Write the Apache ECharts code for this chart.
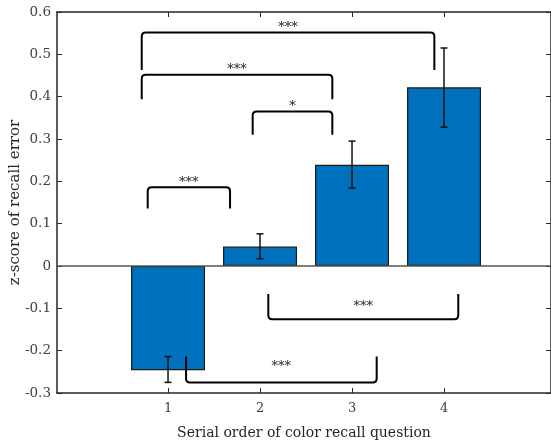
<!DOCTYPE html>
<html><head><meta charset="utf-8">
<script src="https://cdn.jsdelivr.net/npm/echarts@6/dist/echarts.min.js"></script>
<style>html,body{margin:0;padding:0;background:#fff}#c{width:551px;height:440px}</style>
</head><body><div id="c"></div>
<script>
// Data
const positions = [1, 2, 3, 4];
const means = [-0.246, 0.046, 0.239, 0.422];
const errLow = [-0.275, 0.017, 0.184, 0.328];
const errHigh = [-0.214, 0.076, 0.295, 0.515];
const yTicks = [-0.3, -0.2, -0.1, 0, 0.1, 0.2, 0.3, 0.4, 0.5, 0.6];
// significance brackets: x1, x2, line y, end y, star label y, label
const brX1 = [0.714, 0.714, 1.92, 0.779, 2.09, 1.196];
const brX2 = [3.895, 2.786, 2.786, 1.674, 4.155, 3.268];
const brY = [0.5515, 0.4515, 0.365, 0.186, -0.126, -0.275];
const brEnd = [0.463, 0.394, 0.31, 0.136, -0.066, -0.214];
const starY = [0.563, 0.463, 0.376, 0.198, -0.095, -0.238];
const starTxt = ['***', '***', '*', '***', '***', '***'];

const SERIF = '"DejaVu Serif", "Liberation Serif", serif';
const axisCol = '#262626';
const xMin = -0.207, xMax = 5.163;

const chart = echarts.init(document.getElementById('c'));
const bracketData = brX1.map((x, i) => [x, brX2[i], brY[i], brEnd[i], starY[i], starTxt[i]]);

chart.setOption({
  animation: false,
  grid: { left: 57, top: 12, right: 0, bottom: 47, outerBoundsMode: 'none', containLabel: false },
  xAxis: [{
    type: 'value', min: xMin, max: xMax, position: 'bottom',
    axisLine: { show: true, onZero: false, lineStyle: { color: axisCol, width: 1.5 } },
    axisTick: { show: true, inside: true, length: 5, customValues: positions, lineStyle: { color: axisCol } },
    axisLabel: { customValues: positions, color: '#404040', fontFamily: SERIF, fontSize: 13, margin: 9 },
    splitLine: { show: false },
    name: 'Serial order of color recall question', nameLocation: 'middle', nameGap: 33, nameMoveOverlap: false,
    nameTextStyle: { color: '#262626', fontFamily: SERIF, fontSize: 14 }
  }, {
    type: 'value', min: xMin, max: xMax, position: 'top',
    axisLine: { show: true, onZero: false, lineStyle: { color: axisCol, width: 1.5 } },
    axisTick: { show: true, inside: true, length: 5, customValues: positions, lineStyle: { color: axisCol } },
    axisLabel: { show: false }, splitLine: { show: false }
  }],
  yAxis: [{
    type: 'value', min: -0.3, max: 0.6, interval: 0.1, position: 'left',
    axisLine: { show: true, onZero: false, lineStyle: { color: axisCol, width: 1.5 } },
    axisTick: { show: true, inside: true, length: 5, lineStyle: { color: axisCol } },
    axisLabel: { color: '#404040', fontFamily: SERIF, fontSize: 13.5, margin: 6,
      formatter: v => { const r = Math.round(v * 10) / 10; return r === 0 ? '0' : r.toFixed(1); } },
    splitLine: { show: false },
    name: 'z-score of recall error', nameLocation: 'middle', nameGap: 34, nameMoveOverlap: false,
    nameTextStyle: { color: '#262626', fontFamily: SERIF, fontSize: 15 }
  }, {
    type: 'value', min: -0.3, max: 0.6, interval: 0.1, position: 'right',
    axisLine: { show: true, onZero: false, lineStyle: { color: axisCol, width: 1.5 } },
    axisTick: { show: true, inside: true, length: 5, lineStyle: { color: axisCol } },
    axisLabel: { show: false }, splitLine: { show: false }
  }],
  series: [{
    type: 'bar', xAxisIndex: 0, yAxisIndex: 0,
    data: positions.map((p, i) => [p, means[i]]),
    barWidth: 74,
    itemStyle: { color: '#0072BD', borderColor: '#1a1a1a', borderWidth: 1.2 },
    markLine: {
      silent: true, symbol: 'none', label: { show: false },
      lineStyle: { color: '#555', width: 1.5, type: 'solid' },
      data: [{ yAxis: 0 }]
    },
    z: 2
  }, {
    type: 'custom', xAxisIndex: 0, yAxisIndex: 0, z: 5,
    data: positions.map((p, i) => [p, errLow[i], errHigh[i]]),
    renderItem: (params, api) => {
      const lo = api.coord([api.value(0), api.value(1)]);
      const hi = api.coord([api.value(0), api.value(2)]);
      const w = 3.5;
      const st = { stroke: '#111', lineWidth: 1.5, fill: null };
      return { type: 'group', children: [
        { type: 'line', shape: { x1: lo[0], y1: lo[1], x2: hi[0], y2: hi[1] }, style: st },
        { type: 'line', shape: { x1: lo[0] - w, y1: lo[1], x2: lo[0] + w, y2: lo[1] }, style: st },
        { type: 'line', shape: { x1: hi[0] - w, y1: hi[1], x2: hi[0] + w, y2: hi[1] }, style: st }
      ]};
    }
  }, {
    type: 'custom', xAxisIndex: 0, yAxisIndex: 0, z: 6,
    data: bracketData,
    renderItem: (params, api) => {
      const x1 = api.value(0), x2 = api.value(1), y = api.value(2), ye = api.value(3), sy = api.value(4);
      const txt = bracketData[params.dataIndex][5];
      const a = api.coord([x1, ye]), b = api.coord([x1, y]), c = api.coord([x2, y]), d = api.coord([x2, ye]);
      const s = api.coord([(x1 + x2) / 2, sy]);
      const dir = b[1] < a[1] ? 1 : -1;
      const r = 4;
      const path = `M${a[0]},${a[1]} L${b[0]},${b[1] + dir * r} Q${b[0]},${b[1]} ${b[0] + r},${b[1]} L${c[0] - r},${c[1]} Q${c[0]},${c[1]} ${c[0]},${c[1] + dir * r} L${d[0]},${d[1]}`;
      return { type: 'group', children: [
        { type: 'path', shape: { pathData: path }, style: { stroke: '#000', lineWidth: 2, fill: null } },
        { type: 'text', x: s[0], y: s[1], style: { text: txt, fill: '#222', font: '13px ' + SERIF, align: 'center', verticalAlign: 'middle' } }
      ]};
    }
  }]
});
</script>
</body></html>
